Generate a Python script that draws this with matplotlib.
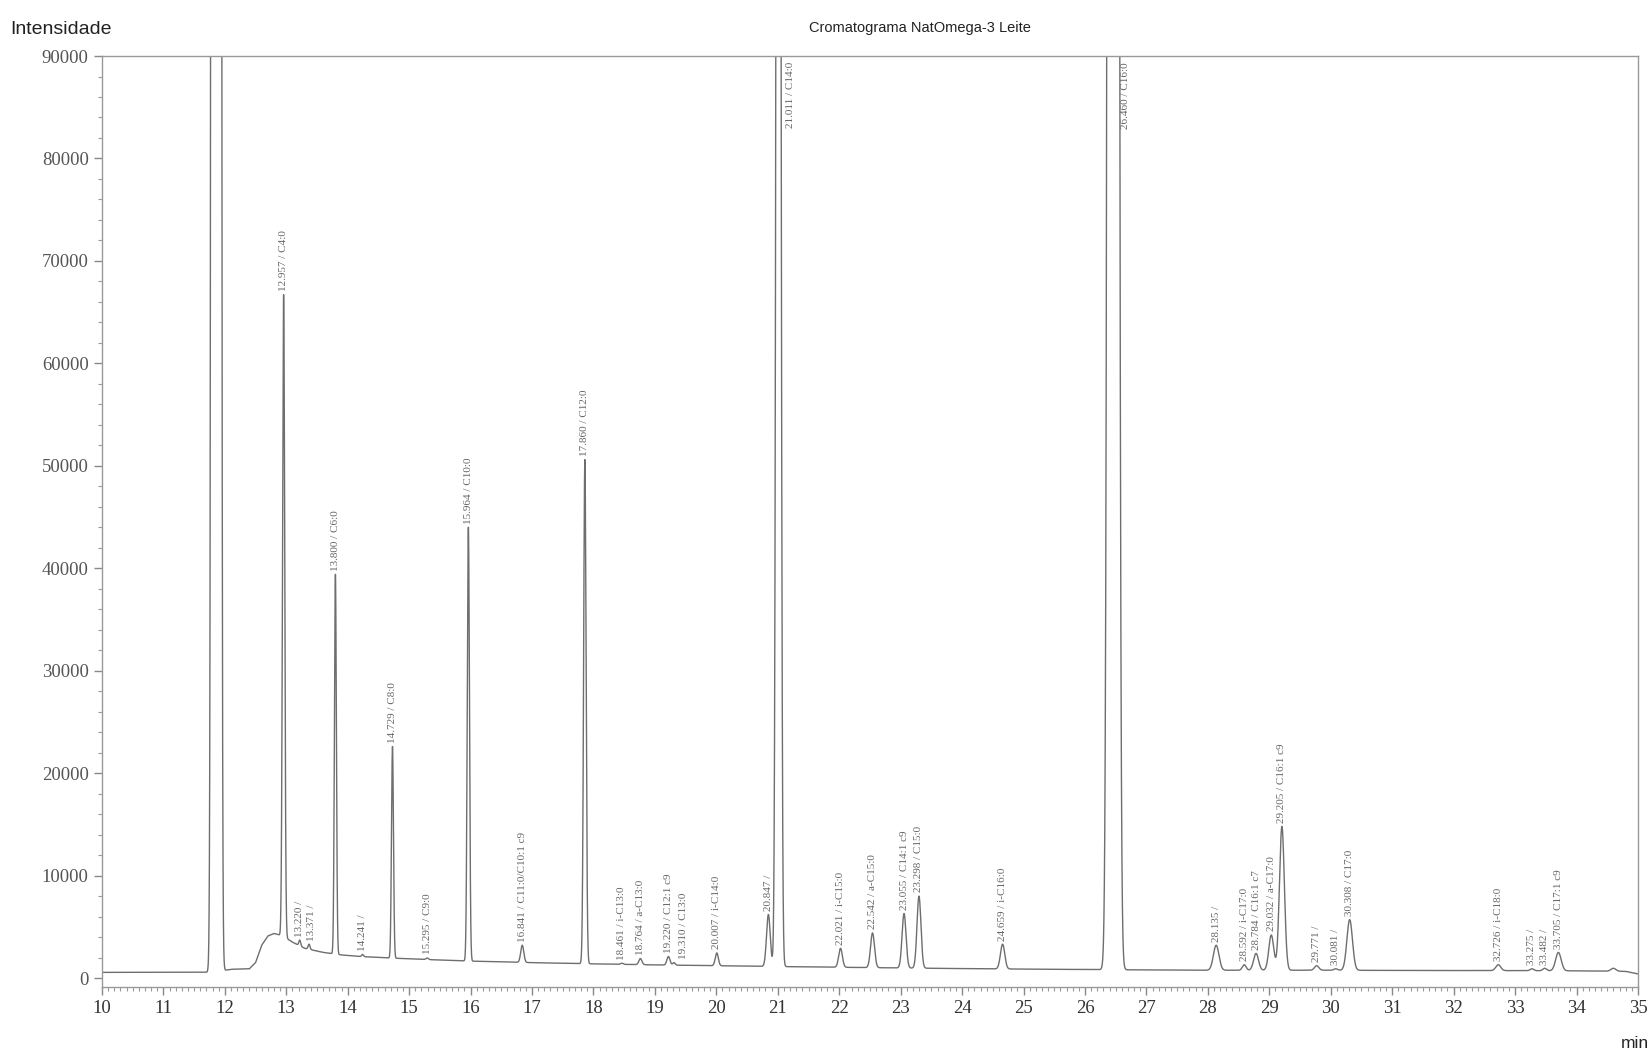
import numpy as np
import matplotlib.pyplot as plt
from matplotlib.ticker import MultipleLocator

# tempos de retenção (min), intensidade no ápice e largura (sigma, min)
rt = [11.86, 12.957, 13.220, 13.371, 13.800, 14.241, 14.729, 15.295, 15.964,
      16.841, 17.860, 18.461, 18.764, 19.220, 19.310, 20.007, 20.847, 21.011,
      22.021, 22.542, 23.055, 23.298, 24.659, 26.460, 28.135, 28.592, 28.784,
      29.032, 29.205, 29.771, 30.081, 30.308, 32.726, 33.275, 33.482, 33.705, 34.60]
height = [1.0e7, 66700, 3700, 3300, 39400, 2300, 22600, 1950, 44000,
          3200, 50600, 1450, 1900, 2100, 1500, 2450, 6200, 3.0e5,
          2900, 4400, 6300, 8000, 3300, 1.5e6, 3200, 1300, 2400,
          4200, 14800, 1200, 900, 5700, 1300, 900, 950, 2500, 950]
sigma = [0.03, 0.018, 0.015, 0.015, 0.016, 0.015, 0.016, 0.02, 0.018,
         0.025, 0.02, 0.02, 0.025, 0.025, 0.02, 0.025, 0.03, 0.028,
         0.03, 0.032, 0.032, 0.032, 0.035, 0.045, 0.045, 0.03, 0.04,
         0.04, 0.04, 0.035, 0.03, 0.045, 0.04, 0.03, 0.03, 0.045, 0.04]
labels = ["", "12.957 / C4:0", "13.220 /", "13.371 /", "13.800 / C6:0", "14.241 /",
          "14.729 / C8:0", "15.295 / C9:0", "15.964 / C10:0", "16.841 / C11:0/C10:1 c9",
          "17.860 / C12:0", "18.461 / i-C13:0", "18.764 / a-C13:0", "19.220 / C12:1 c9",
          "19.310 / C13:0", "20.007 / i-C14:0", "20.847 /", "21.011 / C14:0",
          "22.021 / i-C15:0", "22.542 / a-C15:0", "23.055 / C14:1 c9", "23.298 / C15:0",
          "24.659 / i-C16:0", "26.460 / C16:0", "28.135 /", "28.592 / i-C17:0",
          "28.784 / C16:1 c7", "29.032 / a-C17:0", "29.205 / C16:1 c9", "29.771 /",
          "30.081 /", "30.308 / C17:0", "32.726 / i-C18:0", "33.275 /", "33.482 /",
          "33.705 / C17:1 c9", ""]

# linha de base (deriva + cauda do solvente)
base_t = [10, 11.7, 11.95, 12.1, 12.4, 12.5, 12.6, 12.7, 12.8, 12.95, 13.1, 13.3,
          13.6, 13.9, 14.2, 14.7, 15.3, 16, 17, 18, 19, 20, 21, 22, 23, 24, 25,
          26, 27, 28, 29, 30, 31, 32, 33, 34, 34.8, 35]
base_v = [550, 560, 700, 850, 900, 1500, 3200, 4100, 4350, 4100, 3500, 2900,
          2500, 2250, 2100, 1950, 1800, 1650, 1500, 1380, 1280, 1200, 1120, 1050,
          980, 920, 870, 830, 790, 760, 760, 760, 740, 730, 720, 700, 650, 400]

YMAX = 90000

t = np.linspace(10, 35, 25001)
signal = np.interp(t, base_t, base_v)
for r, h, s in zip(rt, height, sigma):
    amp = h - np.interp(r, base_t, base_v)
    signal = signal + amp * np.exp(-0.5 * ((t - r) / s) ** 2)

fig = plt.figure(figsize=(16.52, 10.57), dpi=100)
ax = fig.add_axes([0.0617, 0.0662, 0.9298, 0.8808])
ax.plot(t, signal, color='#6e6e6e', lw=1.0)

ax.set_xlim(10, 35)
ax.set_ylim(-880, YMAX)

# deslocamento de alguns rótulos para não se sobreporem
nudge = {"19.310 / C13:0": 0.16, "13.371 /": 0.04}

serif = ['Liberation Serif', 'DejaVu Serif']
for r, h, lab in zip(rt, height, labels):
    if not lab:
        continue
    if h > YMAX:
        ax.text(r + 0.2, YMAX - 600, lab, rotation=90, ha='center', va='top',
                fontsize=8, family=serif, color='#666666')
    else:
        apex = signal[np.argmin(np.abs(t - r))]
        ax.text(r + nudge.get(lab, 0), apex + 350, lab, rotation=90, ha='center',
                va='bottom', fontsize=8, family=serif, color='#666666')

ax.xaxis.set_major_locator(MultipleLocator(1))
ax.xaxis.set_minor_locator(MultipleLocator(0.1))
ax.yaxis.set_minor_locator(MultipleLocator(2000))
ax.set_yticks(np.arange(0, YMAX + 1, 10000))
ax.tick_params(which='major', direction='out', length=6, width=1, color='#888888')
ax.tick_params(which='minor', direction='out', length=3, width=0.8, color='#999999')
for lab in ax.get_xticklabels():
    lab.set_family(serif)
    lab.set_fontsize(13.5)
    lab.set_color('#333333')
for lab in ax.get_yticklabels():
    lab.set_family(serif)
    lab.set_fontsize(13.5)
    lab.set_color('#555555')
for sp in ax.spines.values():
    sp.set_color('#999999')
    sp.set_linewidth(1)

fig.text(0.557, 1 - 28 / 1057, 'Cromatograma NatOmega-3 Leite', ha='center', va='center',
         fontsize=10.5, family='Liberation Sans', color='#222222')
fig.text(0.006, 1 - 29 / 1057, 'Intensidade', ha='left', va='center',
         fontsize=14, family='Liberation Sans', color='#222222')
fig.text(0.998, 1 - 1043 / 1057, 'min', ha='right', va='center',
         fontsize=12.5, family='Liberation Sans', color='#222222')

fig.savefig('out.png', dpi=100)
